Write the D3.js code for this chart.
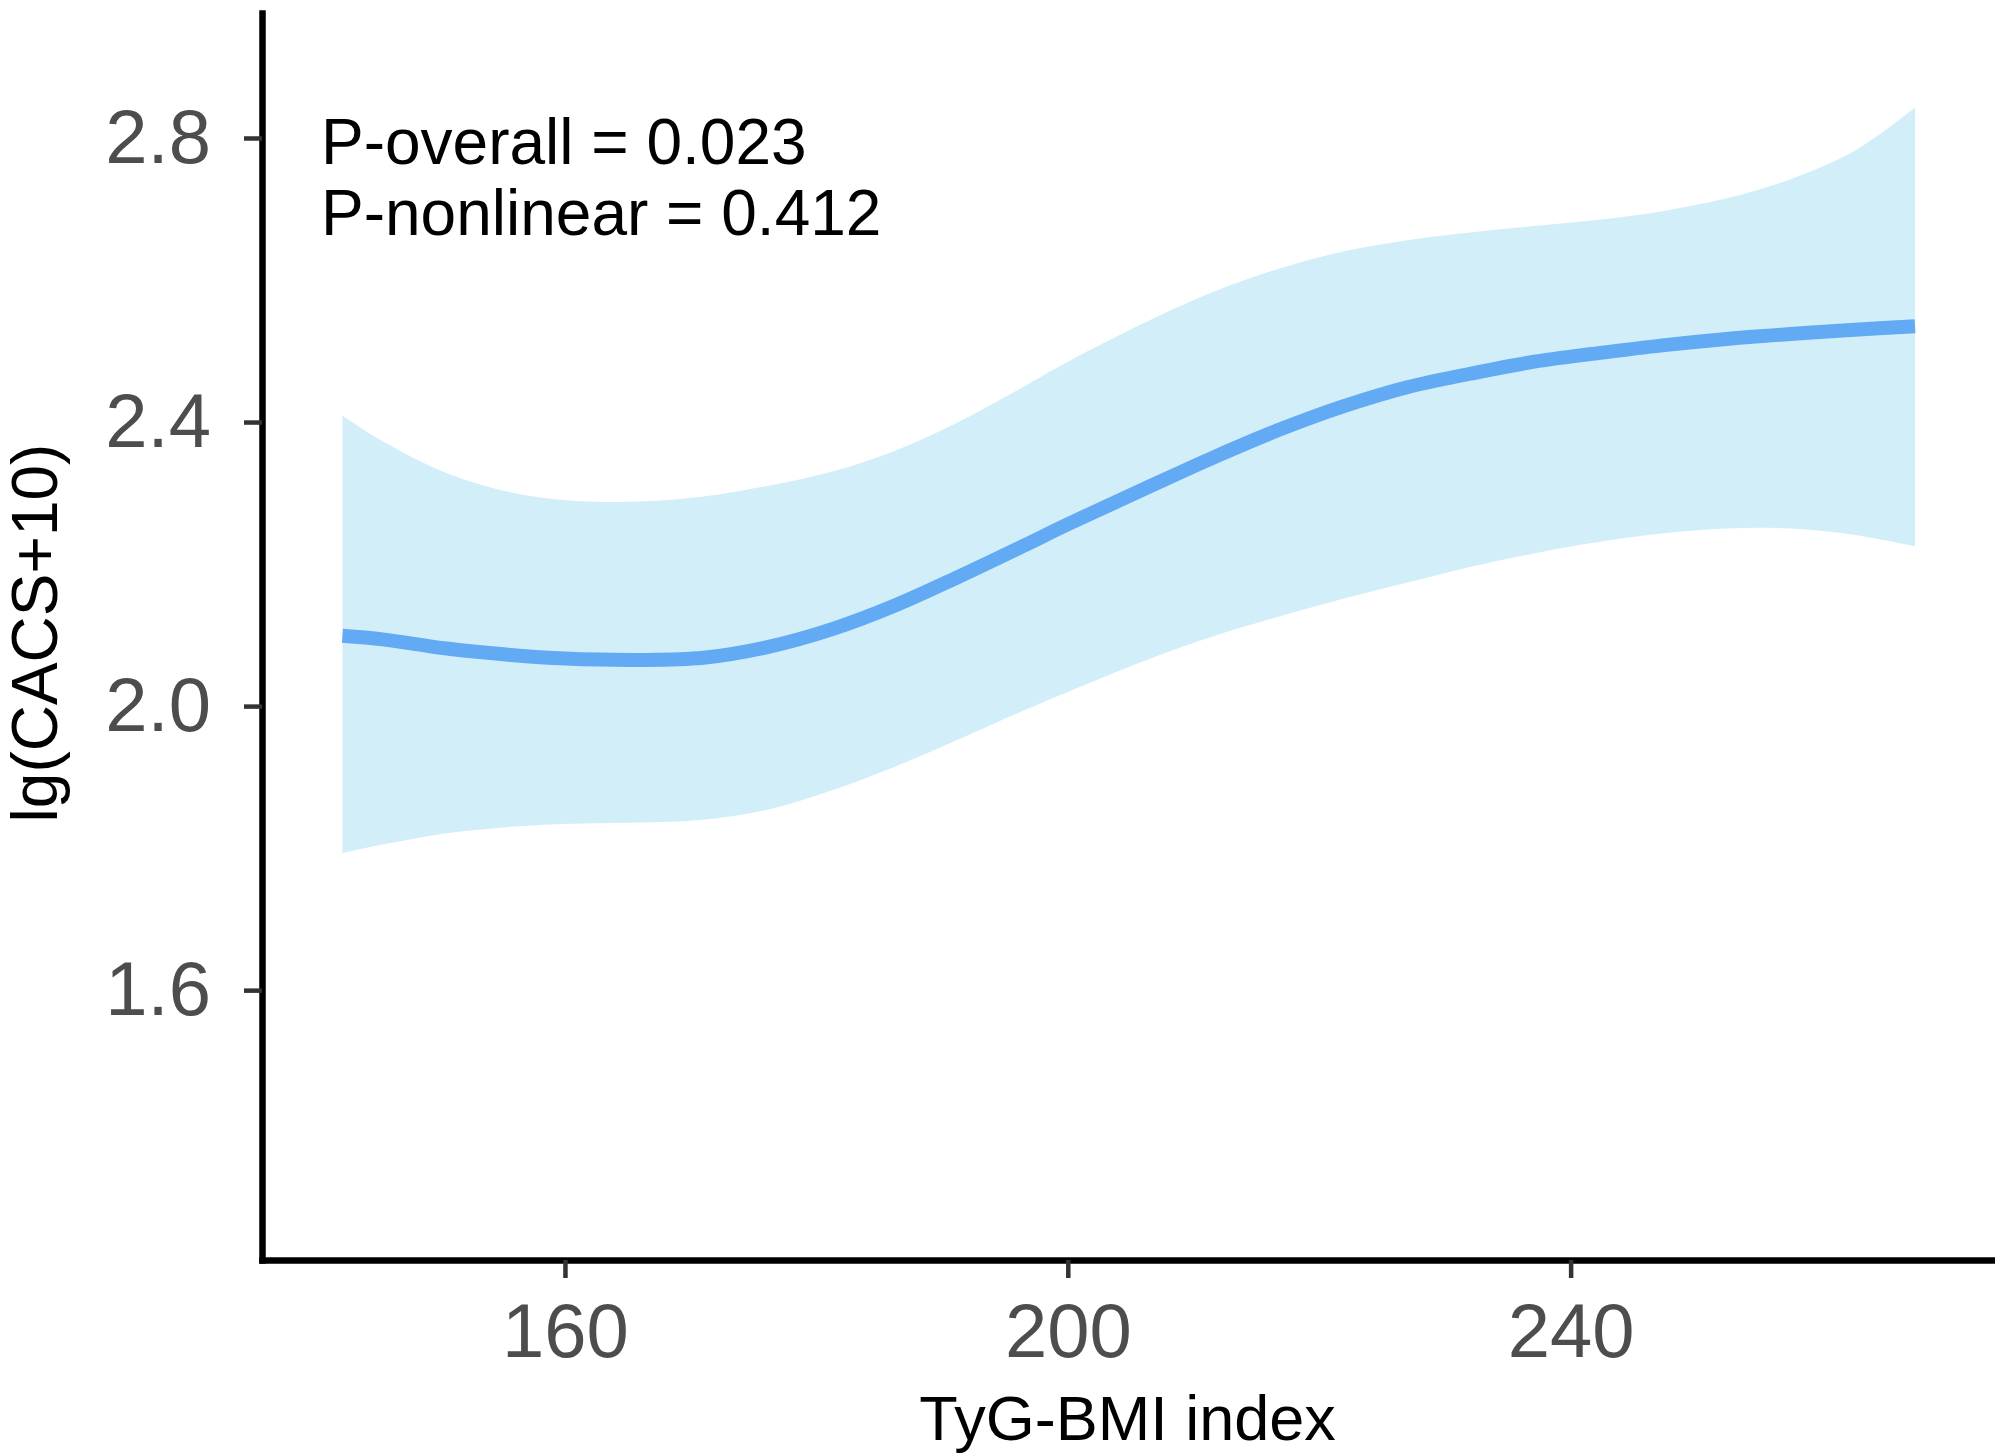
<!DOCTYPE html>
<html>
<head>
<meta charset="utf-8">
<script src="https://cdn.jsdelivr.net/npm/d3@7"></script>
<style>
  body { margin: 0; background: #fff; }
  text { font-family: "Liberation Sans", Arial, sans-serif; }
</style>
</head>
<body>
<div id="chart"></div>
<script>
// values
const xVals  = [142.3, 145.5, 150.6, 155.7, 160, 165.9, 171, 176.1, 181.2, 186.3, 191.3, 196.4, 200,
                206.6, 211.7, 216.8, 221.9, 227, 232, 237.1, 242.2, 247.3, 252.4, 257.5, 262.6, 267.4];
const fitVals = [2.099, 2.094, 2.081, 2.072, 2.067, 2.065, 2.068, 2.083, 2.108, 2.142, 2.182, 2.225, 2.256,
                 2.310, 2.351, 2.389, 2.422, 2.449, 2.468, 2.485, 2.497, 2.508, 2.517, 2.524, 2.530, 2.535];
const upperVals = [2.409, 2.373, 2.328, 2.301, 2.290, 2.288, 2.295, 2.310, 2.330, 2.360, 2.400, 2.449, 2.485,
                   2.544, 2.584, 2.616, 2.640, 2.656, 2.667, 2.676, 2.685, 2.697, 2.715, 2.742, 2.782, 2.843];
const lowerVals = [1.793, 1.805, 1.821, 1.830, 1.834, 1.836, 1.840, 1.854, 1.881, 1.915, 1.953, 1.993, 2.020,
                   2.067, 2.099, 2.126, 2.151, 2.174, 2.196, 2.215, 2.231, 2.243, 2.250, 2.250, 2.241, 2.225];
const xTicks = [160, 200, 240];
const yTicks = [1.6, 2.0, 2.4, 2.8];
const pLabels = ["P-overall = 0.023", "P-nonlinear = 0.412"];

const width = 1995, height = 1454;
const margin = {top: 13, right: 2, bottom: 194, left: 262};

const data = xVals.map((x, i) => ({x: x, fit: fitVals[i], lo: lowerVals[i], hi: upperVals[i]}));

const svg = d3.select("#chart").append("svg")
    .attr("width", width)
    .attr("height", height)
    .attr("viewBox", [0, 0, width, height]);

const x = d3.scaleLinear()
    .domain([135.9, 273.6])
    .range([margin.left, width - margin.right]);

const y = d3.scaleLinear()
    .domain([1.22, 2.976])
    .range([height - margin.bottom, margin.top]);

// confidence band
const band = d3.area()
    .curve(d3.curveCatmullRom.alpha(0.5))
    .x(d => x(d.x))
    .y0(d => y(d.lo))
    .y1(d => y(d.hi));

svg.append("path")
    .datum(data)
    .attr("fill", "#d2eff9")
    .attr("d", band);

const line = d3.line()
    .curve(d3.curveCatmullRom.alpha(0.5))
    .x(d => x(d.x))
    .y(d => y(d.fit));

svg.append("path")
    .datum(data)
    .attr("fill", "none")
    .attr("stroke", "#63aaf5")
    .attr("stroke-width", 14)
    .attr("d", line);

// axes
const xAxis = svg.append("g")
    .attr("transform", `translate(0,${height - margin.bottom})`)
    .call(d3.axisBottom(x).tickValues(xTicks).tickSize(18).tickSizeOuter(0).tickPadding(25));

const yAxis = svg.append("g")
    .attr("transform", `translate(${margin.left},0)`)
    .call(d3.axisLeft(y).tickValues(yTicks).tickFormat(d3.format(".1f")).tickSize(18).tickSizeOuter(0).tickPadding(33));

for (const g of [xAxis, yAxis]) {
    g.select(".domain").attr("stroke", "#000").attr("stroke-width", 6.5).attr("stroke-linecap", "square");
    g.selectAll(".tick line").attr("stroke", "#333").attr("stroke-width", 4.5);
    g.selectAll(".tick text")
        .attr("fill", "#4d4d4d")
        .attr("font-size", 76)
        .attr("font-family", "'Liberation Sans', Arial, sans-serif");
}

// axis titles
svg.append("text")
    .attr("x", (margin.left + width - margin.right) / 2)
    .attr("y", 1440)
    .attr("text-anchor", "middle")
    .attr("font-size", 63)
    .attr("fill", "#000")
    .text("TyG-BMI index");

svg.append("text")
    .attr("transform", `translate(57,633) rotate(-90)`)
    .attr("text-anchor", "middle")
    .attr("font-size", 64)
    .attr("fill", "#000")
    .text("lg(CACS+10)");

// p-value annotation
svg.append("g")
    .selectAll("text")
    .data(pLabels)
    .join("text")
        .attr("x", 321)
        .attr("y", (d, i) => 164 + i * 71)
        .attr("font-size", 64)
        .attr("fill", "#000")
        .text(d => d);
</script>
</body>
</html>
